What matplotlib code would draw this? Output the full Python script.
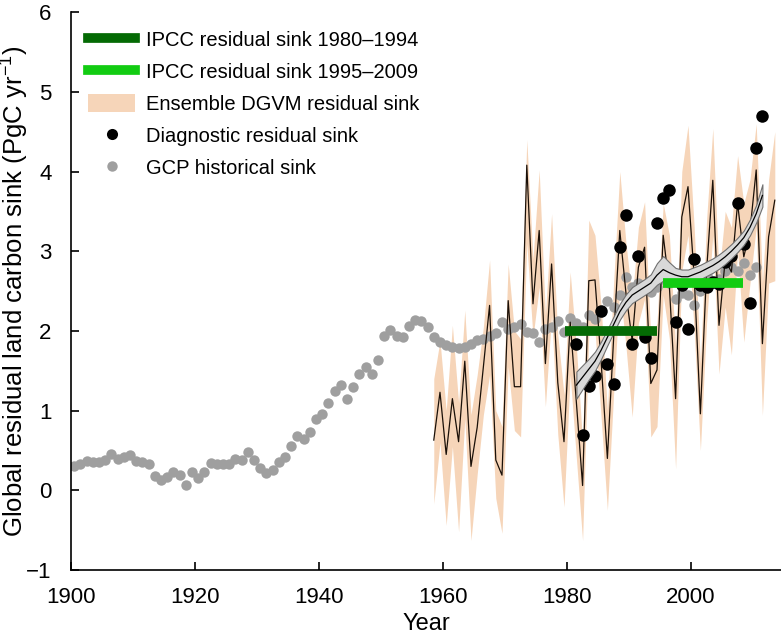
import matplotlib
matplotlib.use("Agg")
import matplotlib.pyplot as plt
from matplotlib.lines import Line2D
from matplotlib.patches import Patch
import numpy as np

plt.rcParams["font.family"] = ["Liberation Sans", "DejaVu Sans"]
plt.rcParams["mathtext.fontset"] = "custom"
plt.rcParams["mathtext.rm"] = "Liberation Sans"
plt.rcParams["mathtext.it"] = "Liberation Sans"

# GCP historical residual sink, 1900-2010
gcp_years = np.arange(1900, 2011)
gcp_sink = [
    0.30, 0.33, 0.37, 0.35, 0.36, 0.38, 0.45, 0.39, 0.42, 0.44,
    0.37, 0.35, 0.33, 0.18, 0.13, 0.17, 0.23, 0.19, 0.07, 0.23,
    0.16, 0.23, 0.34, 0.33, 0.33, 0.33, 0.39, 0.38, 0.48, 0.38,
    0.28, 0.22, 0.26, 0.35, 0.42, 0.56, 0.68, 0.64, 0.73, 0.89,
    0.96, 1.10, 1.25, 1.32, 1.15, 1.30, 1.46, 1.55, 1.46, 1.63,
    1.93, 2.01, 1.94, 1.92, 2.06, 2.14, 2.13, 2.05, 1.92, 1.86,
    1.82, 1.80, 1.78, 1.80, 1.84, 1.88, 1.90, 1.94, 1.97, 2.11,
    2.03, 2.05, 2.09, 1.99, 1.97, 1.86, 2.02, 2.05, 2.13, 1.99,
    2.16, 2.10, 2.05, 2.20, 2.15, 2.24, 2.38, 2.30, 2.45, 2.68,
    2.55, 2.60, 2.55, 2.49, 2.55, 2.65, 2.60, 2.40, 2.47, 2.45,
    2.32, 2.50, 2.70, 2.60, 2.65, 2.75, 2.80, 2.75, 2.85, 2.70,
    2.80,
]

# ensemble DGVM residual sink, 1958-2013: mean, upper and lower edge
dgvm_years = np.arange(1958, 2014)
dgvm_mean = [
    0.63, 1.23, 0.45, 1.15, 0.61, 1.62, 0.30, 0.79, 1.55, 2.32,
    0.38, 0.19, 2.38, 1.30, 1.30, 4.08, 2.34, 3.26, 1.59, 2.84,
    1.35, 0.61, 2.11, 1.10, 0.06, 2.63, 2.64, 1.60, 0.40, 1.90,
    3.26, 2.47, 1.88, 2.80, 3.05, 1.34, 1.51, 3.20, 2.55, 1.15,
    3.43, 3.81, 2.68, 0.96, 2.76, 3.89, 2.07, 2.89, 2.74, 3.60,
    2.93, 3.26, 4.02, 1.84, 3.18, 3.64,
]
dgvm_upper = [
    1.40, 1.88, 1.00, 2.07, 1.10, 2.26, 0.95, 1.45, 2.05, 2.89,
    1.00, 0.80, 2.84, 2.00, 1.90, 4.40, 2.90, 4.02, 2.20, 3.47,
    1.95, 1.20, 2.74, 1.80, 0.60, 3.39, 3.20, 2.30, 1.00, 2.60,
    4.00, 3.10, 2.40, 3.30, 3.62, 1.90, 2.10, 3.60, 3.20, 1.80,
    4.00, 4.58, 3.30, 1.60, 3.40, 4.54, 2.70, 3.50, 3.30, 4.20,
    3.60, 3.90, 4.60, 2.60, 3.90, 4.50,
]
dgvm_lower = [
    -0.17, 0.60, -0.44, 0.55, -0.52, 0.90, -0.63, 0.20, 0.95, 1.45,
    -0.10, -0.54, 1.55, 0.75, 0.67, 3.10, 1.92, 2.55, 1.05, 2.20,
    0.70, -0.21, 1.45, 0.40, -0.63, 1.95, 2.00, 0.90, -0.25, 1.20,
    2.55, 1.80, 0.92, 2.10, 2.40, 0.67, 0.80, 2.45, 1.90, 0.27,
    2.75, 3.20, 2.00, 0.50, 2.10, 3.20, 1.46, 2.30, 1.70, 3.00,
    1.86, 2.60, 3.30, 0.94, 2.60, 2.63,
]

# diagnostic residual sink, 1981-2011, with its smoothed trend
diag_years = np.arange(1981, 2012)
diag_sink = [
    1.83, 0.70, 1.31, 1.43, 2.25, 1.58, 1.34, 3.05, 3.45, 1.83,
    2.94, 1.92, 1.66, 3.35, 3.67, 3.77, 2.11, 2.57, 2.02, 2.90,
    2.58, 2.55, 2.62, 2.59, 2.86, 2.94, 3.61, 3.09, 2.35, 4.29,
    4.70,
]
trend_mid = [
    1.32, 1.42, 1.52, 1.62, 1.76, 1.92, 2.08, 2.24, 2.36, 2.45,
    2.50, 2.55, 2.60, 2.70, 2.77, 2.73, 2.70, 2.68, 2.68, 2.71,
    2.74, 2.78, 2.82, 2.87, 2.93, 3.00, 3.08, 3.17, 3.30, 3.47,
    3.70,
]
trend_upper = [
    1.49, 1.57, 1.65, 1.74, 1.87, 2.02, 2.18, 2.34, 2.46, 2.55,
    2.60, 2.65, 2.71, 2.85, 2.94, 2.86, 2.79, 2.77, 2.77, 2.80,
    2.83, 2.87, 2.91, 2.96, 3.02, 3.09, 3.17, 3.26, 3.40, 3.58,
    3.84,
]
trend_lower = [
    1.15, 1.27, 1.39, 1.50, 1.65, 1.82, 1.98, 2.14, 2.26, 2.35,
    2.40, 2.45, 2.50, 2.58, 2.63, 2.62, 2.61, 2.59, 2.59, 2.62,
    2.65, 2.69, 2.73, 2.78, 2.84, 2.91, 2.99, 3.08, 3.20, 3.36,
    3.56,
]

# IPCC residual sink for two periods
ipcc_labels = ["IPCC residual sink 1980\u20131994", "IPCC residual sink 1995\u20132009"]
ipcc_start = [1979.7, 1995.4]
ipcc_end = [1994.5, 2008.3]
ipcc_value = [2.0, 2.6]
ipcc_colors = ["#046a04", "#12cc12"]

yticks = [-1, 0, 1, 2, 3, 4, 5, 6]
xticks = [1900, 1920, 1940, 1960, 1980, 2000]

BAND = "#f6d5b9"
GREY = "#9f9f9f"

fig = plt.figure(figsize=(7.81, 6.39), dpi=100)
ax = fig.add_axes([0.091, 0.108, 0.909, 0.873])

# annual values plotted at mid-year
off = 0.5
ax.fill_between(dgvm_years + off, dgvm_lower, dgvm_upper, color=BAND, lw=0, zorder=1)
ax.plot(gcp_years + off, gcp_sink, "o", color=GREY, ms=7.5, mec="none", zorder=2)
ax.plot(dgvm_years + off, dgvm_mean, color="#1a1008", lw=0.9, zorder=3)
ax.plot(diag_years + off, diag_sink, "o", color="black", ms=9, mec="none", zorder=4)
ax.fill_between(diag_years + off, trend_lower, trend_upper, facecolor="#d9d9d9",
                edgecolor="#707070", lw=0.8, zorder=5)
ax.plot(diag_years + off, trend_mid, color="black", lw=0.9, zorder=6)
for s, e, v, c in zip(ipcc_start, ipcc_end, ipcc_value, ipcc_colors):
    ax.plot([s, e], [v, v], color=c, lw=7, solid_capstyle="butt", zorder=7)

ax.set_xlim(1900, 2014.5)
ax.set_ylim(-1, 6)
ax.set_xticks(xticks)
ax.set_yticks(yticks)
ax.set_yticklabels([str(t).replace("-", "\u2212") for t in yticks])
ax.tick_params(direction="in", length=6, width=1.2, labelsize=16)
ax.tick_params(axis="x", pad=12)
ax.tick_params(axis="y", pad=14)
for side in ["top", "right"]:
    ax.spines[side].set_visible(False)
for side in ["left", "bottom"]:
    ax.spines[side].set_linewidth(1.2)
ax.set_xlabel("Year", fontsize=17, labelpad=4)
ax.set_ylabel("Global residual land carbon sink (PgC yr$^{-1}$)", fontsize=18.5)
ax.yaxis.set_label_coords(-0.056, 0.5)

handles = [
    Line2D([], [], color=ipcc_colors[0], lw=7),
    Line2D([], [], color=ipcc_colors[1], lw=7),
    Patch(facecolor=BAND, edgecolor="none"),
    Line2D([], [], ls="none", marker="o", color="black", ms=8, mec="none"),
    Line2D([], [], ls="none", marker="o", color=GREY, ms=7.5, mec="none"),
]
labels = ipcc_labels + ["Ensemble DGVM residual sink", "Diagnostic residual sink",
                        "GCP historical sink"]
ax.legend(handles, labels, loc="upper left", bbox_to_anchor=(0.024, 0.968), frameon=False,
          fontsize=14.5, handlelength=2.35, handleheight=1.05, handletextpad=0.5,
          labelspacing=0.58, borderaxespad=0.0, borderpad=0.0)

fig.savefig("out.png", dpi=100)
